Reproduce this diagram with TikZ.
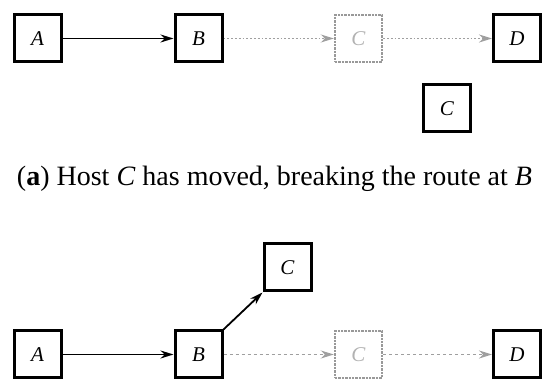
\documentclass[tikz,border=0pt]{standalone}
\usepackage{fontspec}
\setmainfont{Liberation Serif}
\usetikzlibrary{arrows.meta}
\tikzset{
  host/.style={draw, line width=3pt, minimum size=47pt, inner sep=0pt, font=\fontsize{21}{24}\selectfont\itshape},
  ghost/.style={draw=gray!80, densely dotted, line width=2.4pt, minimum size=47pt, inner sep=0pt, text=gray!60, font=\fontsize{21}{24}\selectfont\itshape},
  link/.style={->, line width=1.8pt},
  oldlink/.style={->, gray!75, line width=1.8pt}
}
\begin{document}
\begin{tikzpicture}[x=1pt, y=-1pt, >={Stealth[length=13pt,width=8pt]}]
  \useasboundingbox (0,0) rectangle (542,379);
  % (a) C weggezogen, Route bei B unterbrochen
  \node[host]  (a1) at (37.5,38.5)  {A};
  \node[host]  (b1) at (198.5,38.5) {B};
  \node[ghost] (c1) at (358.5,38.5) {C};
  \node[host]  (d1) at (517,38.5)   {D};
  \node[host]  (cm1) at (447,108.5) {C};
  \draw[link] (a1) -- (b1);
  \draw[oldlink, dotted] (b1) -- (c1);
  \draw[oldlink, dotted] (c1) -- (d1);
  \node[font=\fontsize{28}{32}\selectfont] (cap1) at (274.5,179)
    {(\textbf{a}) Host \textit{C} has moved, breaking the route at \textit{B}};
  % (b) B leitet weiter zum neuen Ort von C
  \node[host]  (a2) at (37.5,354.5)  {A};
  \node[host]  (b2) at (198.5,354.5) {B};
  \node[ghost] (c2) at (358.5,354.5) {C};
  \node[host]  (d2) at (517,354.5)   {D};
  \node[host]  (cm2) at (287.5,267.5) {C};
  \draw[link] (a2) -- (b2);
  \draw[link] (b2.north east) -- (cm2.south west);
  \draw[oldlink, dashed] (b2) -- (c2);
  \draw[oldlink, dashed] (c2) -- (d2);
\end{tikzpicture}
\end{document}
